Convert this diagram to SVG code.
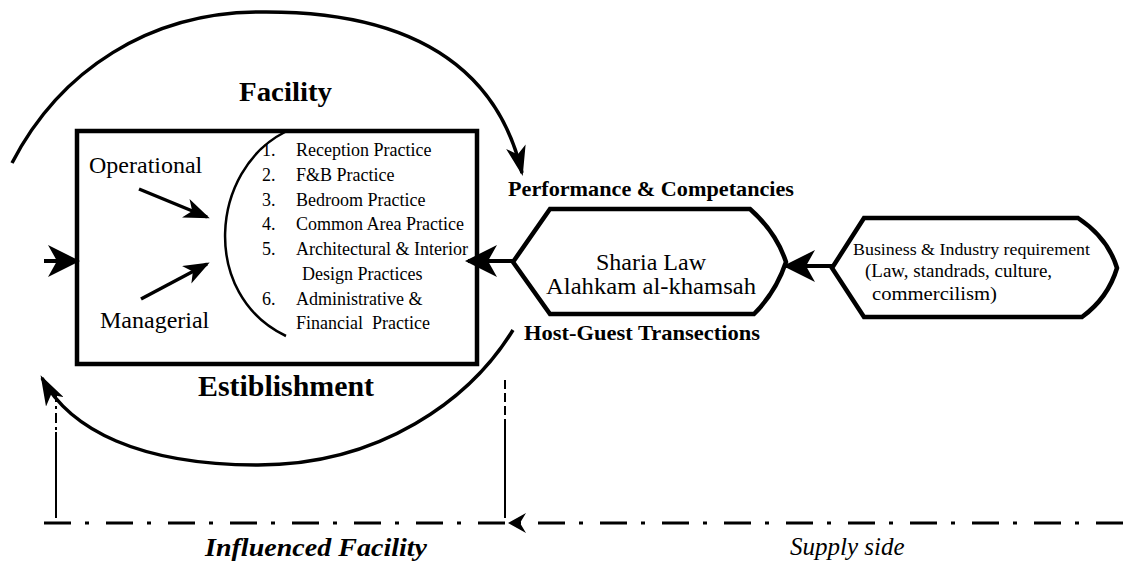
<svg xmlns="http://www.w3.org/2000/svg" width="1123" height="565" viewBox="0 0 1123 565">
<style>
text { font-family: "Liberation Serif", "Times New Roman", serif; fill: #000; }
.b { font-weight: bold; }
.list { font-size: 18px; }
.big { font-size: 24px; }
.conn { fill: none; stroke: #000; stroke-linecap: butt; }
.box { fill: #fff; stroke: #000; stroke-width: 4.5; }
.dd { fill: none; stroke: #000; stroke-width: 3; stroke-dasharray: 27 17 4 14; }
</style>
<defs>
<marker id="ah" viewBox="0 0 30 20" markerWidth="30" markerHeight="20" refX="27" refY="10" orient="auto" markerUnits="userSpaceOnUse"><path d="M0,0 L30,10 L0,20 L8,10 z" fill="#000"/></marker>
<marker id="ahS" viewBox="0 0 26 20" markerWidth="26" markerHeight="20" refX="23" refY="10" orient="auto" markerUnits="userSpaceOnUse"><path d="M0,0 L26,10 L0,20 L7,10 z" fill="#000"/></marker>
<marker id="ahBig" viewBox="0 0 32 32" markerWidth="32" markerHeight="32" refX="29" refY="16" orient="auto" markerUnits="userSpaceOnUse"><path d="M0,0 L32,16 L0,32 L9,16 z" fill="#000"/></marker>
<marker id="chev" viewBox="0 0 18 20" markerWidth="18" markerHeight="20" refX="17" refY="10" orient="auto" markerUnits="userSpaceOnUse"><path d="M0,0 L18,10 L0,20 L6,10 z" fill="#000"/></marker>
</defs>
<rect width="1123" height="565" fill="#fff"/>

<g id="facility-label">
<text class="b" x="239" y="101" font-size="27" textLength="93" lengthAdjust="spacingAndGlyphs">Facility</text>
</g>

<g id="establishment-box">
<rect class="box" x="77" y="131" width="400" height="233"/>
<text class="big" x="89" y="173">Operational</text>
<text class="big" x="100" y="328">Managerial</text>
<path class="conn" stroke-width="2.5" d="M285,132 C210,170 200,295 286,336"/>
<g class="list">
<text x="262" y="156">1.</text><text x="296" y="156">Reception Practice</text>
<text x="262" y="181">2.</text><text x="296" y="181">F&amp;B Practice</text>
<text x="262" y="206">3.</text><text x="296" y="206">Bedroom Practice</text>
<text x="262" y="230">4.</text><text x="296" y="230">Common Area Practice</text>
<text x="262" y="255">5.</text><text x="296" y="255">Architectural &amp; Interior</text>
<text x="302" y="280">Design Practices</text>
<text x="262" y="305">6.</text><text x="296" y="305">Administrative &amp;</text>
<text x="296" y="329">Financial&#160; Practice</text>
</g>
</g>

<g id="establishment-label">
<text class="b" x="198" y="396" font-size="29" textLength="176" lengthAdjust="spacingAndGlyphs">Estiblishment</text>
</g>

<g id="sharia-node">
<path class="box" d="M513,262 L550,209 L750,209 Q776,232 786,262 Q776,292 754,314 L550,314 Z"/>
<text class="big" x="651" y="270" text-anchor="middle">Sharia Law</text>
<text class="big" x="651" y="294" text-anchor="middle" textLength="210" lengthAdjust="spacingAndGlyphs">Alahkam al-khamsah</text>
</g>

<g id="performance-label">
<text class="b" x="508" y="196" font-size="21" textLength="286" lengthAdjust="spacingAndGlyphs">Performance &amp; Competancies</text>
</g>
<g id="hostguest-label">
<text class="b" x="524" y="340" font-size="21" textLength="236" lengthAdjust="spacingAndGlyphs">Host-Guest Transections</text>
</g>

<g id="business-node">
<path class="box" d="M832,268 L864,218 L1078,218 Q1108,238 1117,268 Q1108,298 1082,317 L864,317 Z"/>
<text x="853" y="255" font-size="17" textLength="237" lengthAdjust="spacingAndGlyphs">Business &amp; Industry requirement</text>
<text x="865" y="277" font-size="19">(Law, standrads, culture,</text>
<text x="872" y="300" font-size="19" textLength="125" lengthAdjust="spacingAndGlyphs">commercilism)</text>
</g>

<g id="connectors">
<path class="conn" stroke-width="3.5" d="M12,163 C60,70 150,12 260,12 C450,10 505,100 522,173" marker-end="url(#ah)"/>
<path class="conn" stroke-width="3.5" d="M513,330 C470,400 380,465 258,465 C140,465 70,430 42,378" marker-end="url(#ah)"/>
<path class="conn" stroke-width="3.5" d="M139,189 L207,217" marker-end="url(#ahS)"/>
<path class="conn" stroke-width="3.5" d="M141,299 L207,264" marker-end="url(#ahS)"/>
<path class="conn" stroke-width="4" d="M44,261 L77,261" marker-end="url(#ahBig)"/>
<path class="conn" stroke-width="4" d="M513,261 L468,261" marker-end="url(#ahBig)"/>
<path class="conn" stroke-width="4" d="M832,266 L786,266" marker-end="url(#ahBig)"/>
<path class="conn" stroke-width="2" stroke-dasharray="10 4 3 4" d="M56,392 L56,432"/>
<path class="conn" stroke-width="2" d="M56,432 L56,518"/>
<path class="conn" stroke-width="2" stroke-dasharray="9 4" d="M505,380 L505,420"/>
<path class="conn" stroke-width="2" d="M505,420 L505,518"/>
<path class="dd" d="M1123,523 L509,523" marker-end="url(#chev)"/>
<path class="dd" d="M505,523 L38,523"/>
</g>

<g id="bottom-labels">
<text class="b" x="205" y="556" font-size="26" font-style="italic" textLength="222" lengthAdjust="spacingAndGlyphs">Influenced Facility</text>
<text x="790" y="555" font-size="25" font-style="italic">Supply side</text>
</g>
</svg>
